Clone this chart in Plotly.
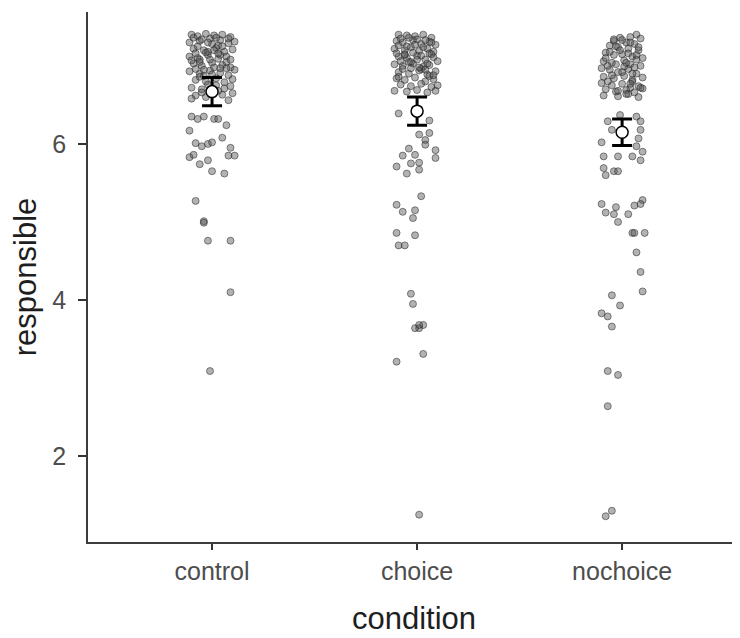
import plotly.graph_objects as go

categories = ["control", "choice", "nochoice"]

# jittered individual responses: (x offset from category centre, y value)
control_dx = [-0.10,-0.07,-0.03,0.01,0.05,0.09,-0.11,-0.06,0.00,0.04,0.08,0.11,-0.09,-0.04,0.02,0.06,0.10,
              -0.11,-0.07,-0.02,0.03,0.07,-0.09,-0.05,0.00,0.05,0.09,-0.11,-0.06,-0.01,0.04,0.08,0.11,
              -0.08,-0.03,0.02,0.06,0.10,-0.10,-0.05,0.06,0.09,-0.08,-0.03,0.05,0.10,-0.10,0.08,
              -0.01,0.03,-0.08,0.01,-0.04,0.07,-0.06,-0.02,
              -0.09,-0.05,-0.02,0.02,0.05,0.08,-0.07,-0.03,0.01,0.04,-0.10,-0.06,-0.01,0.03,0.07,
              -0.08,-0.04,0.00,0.04,0.09,-0.06,-0.02,0.02,-0.05,0.03,
              -0.10,-0.07,-0.04,0.01,0.03,0.07,
              -0.11,-0.08,-0.05,-0.02,0.00,0.05,0.09,
              -0.11,-0.09,-0.06,-0.02,0.00,0.06,0.08,0.11,
              -0.08,-0.04,-0.04,0.09,-0.02,0.09,-0.01]
control_y = [7.40,7.38,7.41,7.39,7.40,7.37,7.30,7.32,7.28,7.33,7.29,7.31,7.22,7.20,7.23,7.18,7.21,
             7.12,7.10,7.14,7.09,7.12,7.03,7.00,7.04,7.01,6.98,6.93,6.90,6.94,6.91,6.88,6.95,
             6.82,6.80,6.84,6.79,6.83,6.72,6.70,6.71,6.74,6.62,6.60,6.63,6.65,6.58,6.56,
             7.35,7.26,7.16,6.98,6.87,7.05,7.08,7.18,
             7.36,7.34,7.30,7.36,7.25,7.35,7.25,7.17,7.20,7.14,7.07,7.05,7.08,7.16,6.97,
             6.96,6.95,6.89,6.97,7.08,6.86,6.76,6.75,6.66,6.68,
             6.35,6.32,6.35,6.32,6.32,6.24,
             6.17,6.01,5.97,6.00,6.02,6.08,5.95,
             5.83,5.86,5.74,5.79,5.65,5.62,5.85,5.85,
             5.27,5.01,4.99,4.76,4.76,4.10,3.09]

choice_dx = [-0.09,-0.05,-0.01,0.03,0.07,-0.10,-0.07,-0.02,0.02,0.06,0.09,-0.11,-0.06,-0.03,0.01,0.05,0.08,
             -0.09,-0.05,0.00,0.04,0.08,0.10,-0.11,-0.07,-0.02,0.03,0.06,-0.09,-0.04,0.01,0.05,0.09,
             -0.10,-0.06,-0.01,0.04,0.08,-0.08,-0.03,0.02,0.07,0.10,-0.11,-0.05,0.00,0.05,0.09,
             -0.06,0.02,-0.03,0.06,
             -0.08,-0.04,0.00,0.04,0.07,-0.09,-0.05,-0.01,0.03,0.06,-0.10,-0.06,-0.02,0.02,0.07,
             -0.08,-0.04,0.00,0.05,-0.07,-0.03,0.01,0.04,-0.09,0.08,
             -0.09,0.06,0.01,0.06,0.04,0.04,-0.04,0.09,-0.07,-0.01,0.09,-0.03,0.01,-0.10,-0.05,0.01,0.02,
             -0.10,-0.07,-0.01,-0.02,-0.10,-0.01,-0.09,-0.06,-0.03,-0.02,0.01,0.03,-0.01,0.01,0.03,-0.10,0.01]
choice_y = [7.40,7.39,7.38,7.40,7.36,7.32,7.30,7.33,7.28,7.31,7.27,7.22,7.20,7.24,7.19,7.22,7.18,
            7.12,7.10,7.13,7.08,7.11,7.06,7.02,7.00,7.03,6.99,7.01,6.92,6.90,6.94,6.89,6.93,
            6.84,6.82,6.85,6.80,6.83,6.76,6.74,6.77,6.73,6.75,6.68,6.67,6.69,6.66,6.68,
            7.15,6.96,7.05,6.87,
            7.35,7.36,7.34,7.33,7.30,7.26,7.25,7.27,7.24,7.16,7.16,7.14,7.17,7.13,7.15,
            7.06,7.05,7.08,7.03,6.96,6.97,6.98,6.95,6.86,6.88,
            6.39,6.30,6.12,6.14,6.05,5.99,5.94,5.92,5.85,5.86,5.82,5.75,5.76,5.71,5.62,5.67,5.33,
            5.22,5.13,5.15,5.05,4.86,4.83,4.70,4.70,4.08,3.95,3.64,3.68,3.64,3.68,3.31,3.21,1.25]

nochoice_dx = [0.07,0.04,-0.01,0.09,-0.04,0.02,0.06,-0.06,-0.02,0.03,0.08,-0.08,-0.04,0.00,0.05,0.10,
               -0.09,-0.05,0.01,0.04,0.09,-0.10,-0.06,-0.02,0.03,0.07,-0.09,-0.04,0.01,0.05,0.10,
               -0.10,-0.05,0.00,0.04,0.08,-0.08,-0.03,0.02,0.06,0.10,-0.09,-0.02,0.03,0.08,
               -0.07,0.05,-0.03,0.07,0.01,
               -0.04,0.00,0.04,0.08,-0.06,-0.01,0.03,0.07,-0.08,-0.03,0.02,0.06,-0.05,0.00,0.05,
               -0.07,0.04,0.09,-0.02,0.02,
               -0.01,0.07,0.09,-0.07,-0.05,0.09,0.08,-0.10,0.07,0.10,-0.09,-0.02,0.05,0.09,-0.09,-0.04,-0.02,-0.08,
               0.10,0.09,0.06,-0.10,-0.08,-0.03,-0.04,-0.02,0.03,0.05,0.06,0.07,0.09,0.10,0.11,
               -0.05,-0.01,-0.10,-0.07,-0.05,-0.07,-0.02,-0.07,-0.05,-0.08]
nochoice_y = [7.40,7.37,7.36,7.35,7.32,7.30,7.28,7.26,7.24,7.22,7.20,7.17,7.14,7.15,7.12,7.10,
              7.06,7.04,7.07,7.02,7.00,6.97,6.95,6.92,6.96,6.90,6.86,6.84,6.87,6.82,6.85,
              6.78,6.75,6.77,6.72,6.74,6.70,6.67,6.69,6.66,6.71,6.62,6.61,6.64,6.60,
              7.00,6.80,7.25,7.08,6.99,
              7.34,7.33,7.30,7.24,7.18,7.20,7.16,7.14,7.10,7.02,7.04,6.98,6.88,6.92,6.90,
              6.80,6.77,6.72,6.68,6.64,
              6.37,6.35,6.29,6.29,6.18,6.18,6.07,6.02,5.97,5.90,5.84,5.84,5.84,5.79,5.69,5.65,5.65,5.60,
              5.28,5.23,5.21,5.23,5.12,5.19,5.10,5.00,5.10,4.86,4.86,4.61,4.36,4.11,4.86,
              4.06,3.93,3.83,3.79,3.66,3.09,3.04,2.64,1.30,1.23]

means = [6.67, 6.42, 6.15]
errors = [0.18, 0.18, 0.17]

fig = go.Figure()

pt_style = dict(size=7, color="rgba(85,85,85,0.45)", line=dict(width=1, color="rgba(30,30,30,0.5)"))
for i, (dx, ys) in enumerate([(control_dx, control_y), (choice_dx, choice_y), (nochoice_dx, nochoice_y)]):
    n = min(len(dx), len(ys))
    fig.add_trace(go.Scatter(
        x=[i + 1 + d for d in dx[:n]], y=ys[:n], mode="markers",
        marker=pt_style, showlegend=False, hoverinfo="skip"))

fig.add_trace(go.Scatter(
    x=[1, 2, 3], y=means, mode="markers",
    marker=dict(size=12, color="white", line=dict(width=1.5, color="black")),
    error_y=dict(type="data", array=errors, visible=True, color="black", thickness=3, width=10),
    showlegend=False))

axis_font = dict(family="Liberation Sans, Arial, sans-serif", size=25, color="rgb(77,77,77)")
title_font = dict(family="Liberation Sans, Arial, sans-serif", size=31, color="rgb(30,30,30)")

# the page body adds an 8px offset, margins compensate for it
fig.update_layout(
    width=740, height=638,
    margin=dict(l=80, r=8, t=4, b=104),
    plot_bgcolor="white", paper_bgcolor="white",
    xaxis=dict(
        range=[0.395, 3.575], tickvals=[1, 2, 3], ticktext=categories,
        showgrid=False, zeroline=False, showline=True, linecolor="rgb(60,60,60)", linewidth=1.5,
        ticks="outside", ticklen=6, tickwidth=2, tickcolor="rgb(51,51,51)",
        tickfont=axis_font, automargin=False,
        title=dict(text="condition", font=title_font, standoff=24)),
    yaxis=dict(
        range=[0.90, 7.69], tickvals=[2, 4, 6],
        showgrid=False, zeroline=False, showline=True, linecolor="rgb(60,60,60)", linewidth=1.5,
        ticks="outside", ticklen=8, tickwidth=2, tickcolor="rgb(51,51,51)",
        tickfont=axis_font, automargin=False, ticklabelstandoff=7,
        title=dict(text="responsible", font=title_font, standoff=17)),
)

fig.write_html("out.html")
